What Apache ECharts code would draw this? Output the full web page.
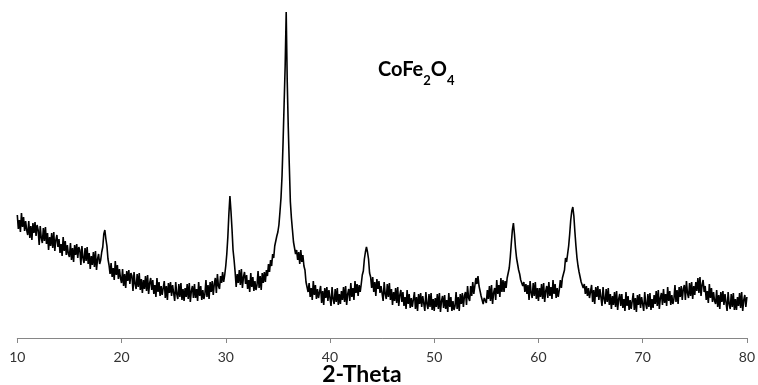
<!DOCTYPE html>
<html>
<head>
<meta charset="utf-8">
<script src="https://cdn.jsdelivr.net/npm/echarts@6/dist/echarts.min.js"></script>
<style>html,body{margin:0;padding:0;background:#fff;}#c{width:758px;height:385px;}</style>
</head>
<body>
<div id="c"></div>
<script>
// 2-Theta sampling grid (degrees)
const thetaStart = 10;
const thetaStep = 0.1;
// Intensity (arbitrary units), 10 samples per degree
const intensity = [
  123,109,118,106,125,111,121,107,117,108, // 10
  103,117,100,112,98,115,105,116,102,113,  // 11
  108,93,112,100,95,110,97,111,94,105,     // 12
  88,101,92,105,90,106,87,98,103,91,       // 13
  99,85,94,82,101,87,97,83,93,84,          // 14
  81,95,78,90,76,93,83,94,80,91,           // 15
  88,73,92,80,75,90,77,91,74,85,           // 16
  69,82,73,86,71,87,68,79,84,74,           // 17
  78,86,91,104,108,99,92,79,73,64,         // 18
  75,61,70,58,77,63,73,59,69,60,           // 19
  55,69,52,64,50,67,57,68,54,65,           // 20
  62,47,66,54,49,64,51,65,48,59,           // 21
  45,58,49,62,47,63,44,55,60,48,           // 22
  58,44,53,41,60,46,56,42,52,43,           // 23
  43,57,40,52,38,55,45,56,42,53,           // 24
  52,37,56,44,39,54,41,55,38,49,           // 25
  37,50,41,54,39,55,36,47,52,40,           // 26
  54,40,49,37,56,42,52,38,48,39,           // 27
  44,58,41,53,39,56,46,57,43,54,           // 28
  60,45,64,52,49,62,55,66,56,63,           // 29
  72,84,101,124,142,127,109,88,78,66,      // 30
  51,64,55,68,53,69,50,61,66,54,           // 31
  63,49,58,46,65,51,61,47,57,48,           // 32
  53,67,50,62,48,65,55,66,56,68,           // 33
  62,74,66,78,72,84,80,92,94,102,          // 34
  106,113,126,140,162,196,234,272,326,256, // 35
  210,172,136,120,108,96,94,84,88,78,      // 36
  86,74,88,76,83,72,68,56,55,46,           // 37
  55,41,50,38,57,43,53,39,49,40,           // 38
  38,52,35,47,33,50,40,51,37,48,           // 39
  47,32,51,39,34,49,36,50,33,44,           // 40
  34,47,38,51,36,52,33,44,49,37,           // 41
  55,41,50,38,57,45,54,42,53,46,           // 42
  54,63,67,79,86,91,86,79,65,61,           // 43
  50,61,46,56,42,59,49,57,45,52,           // 44
  52,37,56,44,39,54,41,55,38,49,           // 45
  33,46,37,50,35,51,32,43,48,36,           // 46
  46,32,41,29,48,34,44,30,40,31,           // 47
  32,46,29,41,27,44,34,45,31,42,           // 48
  42,27,46,34,29,44,31,45,28,39,           // 49
  27,40,31,44,29,45,26,37,42,30,           // 50
  43,29,38,26,45,31,41,27,37,28,           // 51
  32,46,29,41,27,44,34,45,31,42,           // 52
  46,33,52,40,37,52,42,56,44,52,           // 53
  60,54,62,52,50,42,44,34,40,38,           // 54
  35,48,39,52,37,53,34,45,50,38,           // 55
  58,44,53,41,60,46,58,46,57,50,           // 56
  60,65,70,81,95,108,115,104,90,80,        // 57
  74,68,64,58,60,52,56,46,54,44,           // 58
  53,38,57,45,40,55,42,56,39,50,           // 59
  37,50,41,54,39,55,36,47,52,40,           // 60
  56,42,51,39,58,44,54,40,50,41,           // 61
  48,58,50,60,62,68,80,76,84,92,           // 62
  104,118,127,131,122,106,92,80,72,66,     // 63
  64,56,58,50,54,44,52,42,50,40,           // 64
  39,53,36,48,34,51,41,52,38,49,           // 65
  47,32,51,39,34,49,36,50,33,44,           // 66
  29,42,33,46,31,47,28,39,44,32,           // 67
  44,30,39,27,46,32,42,28,38,29,           // 68
  31,45,28,40,26,43,33,44,30,41,           // 69
  42,27,46,34,29,44,31,45,28,39,           // 70
  30,43,34,47,32,48,29,40,45,33,           // 71
  49,35,44,32,51,37,47,33,43,34,           // 72
  39,53,36,48,34,51,41,52,38,49,           // 73
  53,38,57,45,40,55,42,56,39,52,           // 74
  43,56,47,60,45,61,42,53,58,46,           // 75
  52,38,47,35,54,40,50,36,46,37,           // 76
  34,48,31,43,29,46,36,47,33,44,           // 77
  42,27,46,34,29,44,31,45,28,39,           // 78
  28,41,32,45,30,46,27,38,43,31,           // 79
  41                                       // 80
];
const xTicks = [10, 20, 30, 40, 50, 60, 70, 80];
const xTitle = '2-Theta';

const data = intensity.map((v, i) => [+(thetaStart + i * thetaStep).toFixed(2), v]);

const FONT = 'Lato, "Open Sans", sans-serif';
const chart = echarts.init(document.getElementById('c'), null, {renderer: 'canvas'});
chart.setOption({
  animation: false,
  backgroundColor: '#ffffff',
  grid: {left: 17.3, right: 8.5, top: 8, bottom: 47, containLabel: false},
  xAxis: {
    type: 'value', min: xTicks[0], max: xTicks[xTicks.length - 1], interval: 10,
    axisLine: {show: true, onZero: false, lineStyle: {color: '#868686', width: 1}},
    axisTick: {show: true, inside: false, length: 5, lineStyle: {color: '#868686'}},
    splitLine: {show: false},
    axisLabel: {color: '#333333', fontFamily: FONT, fontSize: 14, margin: 12}
  },
  yAxis: {type: 'value', min: 0, max: 330, show: false},
  series: [{
    type: 'line', data: data, showSymbol: false, symbol: 'none',
    lineStyle: {color: '#000', width: 1.6}, silent: true
  }],
  graphic: [{
    type: 'text', x: 362, y: 375,
    style: {
      text: xTitle, fill: '#000', align: 'center', verticalAlign: 'middle',
      font: 'bold 23px ' + FONT
    }
  }, {
    type: 'text', left: 378, top: 60,
    style: {
      text: '{m|CoFe}{s|2}{m|O}{s|4}',
      fill: '#000',
      rich: {
        m: {fontSize: 20, fontWeight: 'bold', fontFamily: FONT, lineHeight: 20, verticalAlign: 'top', fill: '#000'},
        s: {fontSize: 13, fontWeight: 'bold', fontFamily: FONT, lineHeight: 27, verticalAlign: 'bottom', fill: '#000'}
      }
    }
  }]
});
</script>
</body>
</html>
